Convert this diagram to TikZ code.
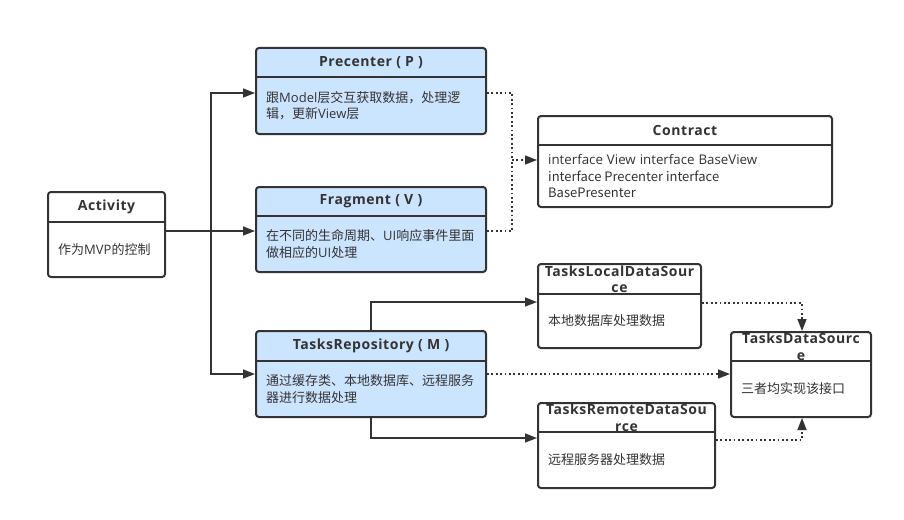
\documentclass[tikz,border=0pt]{standalone}
\usepackage{fontspec}
\setmainfont{Noto Sans CJK SC}
\newfontfamily\titlefont[LetterSpace=4]{Open Sans}
\newfontfamily\lat[WordSpace=1.15]{Open Sans}
\usetikzlibrary{arrows.meta,fit,calc}
\definecolor{ln}{HTML}{333333}
\definecolor{blu}{HTML}{CCE5FF}
\tikzset{
 box/.style={draw=ln, line width=2pt, rounded corners=3pt, inner sep=0pt},
 bluebox/.style={box, fill=blu},
 whitebox/.style={box, fill=white},
 divider/.style={draw=ln, line width=2pt},
 ttl/.style={font=\titlefont\bfseries\fontsize{14}{16.5}\selectfont, text=ln, align=center, inner sep=0pt},
 bdy/.style={font=\fontsize{13}{16.5}\selectfont, text=ln, align=left, anchor=west, inner sep=0pt},
 conn/.style={draw=ln, line width=1.6pt, -{Triangle[length=12pt,width=9pt]}},
 dotline/.style={draw=ln, line width=1.6pt, dash pattern=on 1.8pt off 2.6pt},
 dconn/.style={dotline, -{Triangle[length=12pt,width=9pt]}},
}
\newcommand\umlbox[9]{%
 \node[#7, fit={(#2,#3) (#4,#5)}] (#1) {};
 \draw[divider] (#2,#6) -- (#4,#6);
 \node[ttl] (#1t) at ({(#2+#4)/2},{(#3+#6)/2}) {#8};
 \node[bdy] (#1b) at ({#2+10},{(#6+#5)/2}) {#9};
}
\begin{document}
\begin{tikzpicture}[x=1pt,y=-1pt]
\useasboundingbox[fill=white] (0,0) rectangle (904,519);
\umlbox{act}{48}{192}{165}{277}{222}{whitebox}{Activity}{作为{\lat MVP}的控制}
\umlbox{prec}{256}{48}{486}{134}{77}{bluebox}{Precenter ( P )}{跟{\lat Model}层交互获取数据，处理逻\\辑，更新{\lat View}层}
\umlbox{frag}{256}{187}{486}{272}{216}{bluebox}{Fragment ( V )}{在不同的生命周期、{\lat UI}响应事件里面\\做相应的{\lat UI}处理}
\umlbox{repo}{256}{331}{486}{417}{361}{bluebox}{TasksRepository ( M )}{通过缓存类、本地数据库、远程服务\\器进行数据处理}
\umlbox{cont}{538}{116}{832}{207}{145}{whitebox}{Contract}{\lat\fontsize{13.3}{16.5}\selectfont interface View interface BaseView\\interface Precenter interface\\BasePresenter}
\umlbox{local}{538}{264}{701}{348}{294}{whitebox}{TasksLocalDataSour\\ce}{本地数据库处理数据}
\umlbox{ds}{731}{332}{871}{417}{361}{whitebox}{TasksDataSourc\\e}{三者均实现该接口}
\umlbox{remote}{538}{403}{715}{488}{432}{whitebox}{TasksRemoteDataSou\\rce}{远程服务器处理数据}
% solid connectors
\coordinate (trunk) at (211,231);
\draw[conn] (act.east |- trunk) -- (frag.west |- trunk);
\draw[conn] (trunk) |- (prec.west |- 0,93);
\draw[conn] (trunk) |- (repo.west |- 0,374);
\coordinate (up) at (371,302);
\coordinate (dn) at (371,438);
\draw[conn] (repo.north -| up) |- (local.west |- up);
\draw[conn] (repo.south -| dn) |- (remote.west |- dn);
% dotted connectors
\coordinate (dj) at (512,160);
\draw[dotline] (prec.east |- 0,93) -| (dj);
\draw[dotline] (frag.east |- trunk) -| (dj);
\draw[dconn] (dj) -- (cont.west |- dj);
\draw[dconn] (repo.east |- 0,374) -- (ds.west |- 0,374);
\coordinate (dx) at (802,303);
\draw[dconn] (local.east |- dx) -| (ds.north -| dx);
\coordinate (dy) at (802,440);
\draw[dconn] (remote.east |- dy) -| (ds.south -| dy);
\end{tikzpicture}
\end{document}
